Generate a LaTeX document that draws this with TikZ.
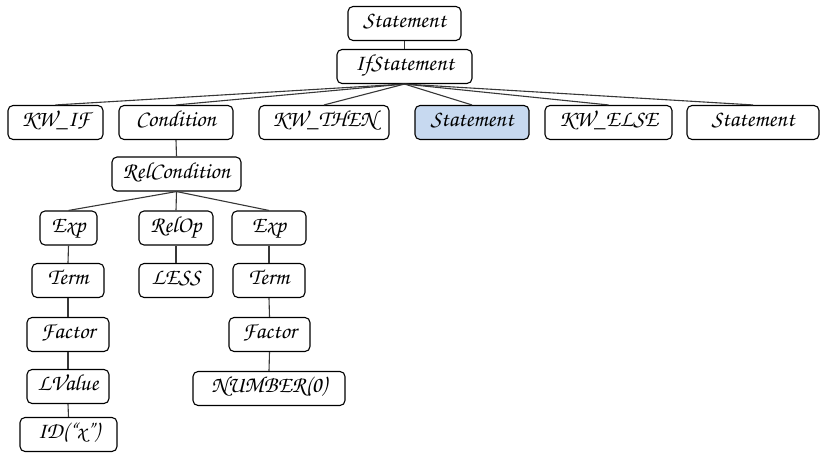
\documentclass[tikz,border=0pt]{standalone}
\usepackage[T1]{fontenc}
\newcommand{\treefont}{\usefont{T1}{pzc}{m}{it}\fontsize{23}{26}\selectfont}
\definecolor{hlblue}{RGB}{199,217,240}
\definecolor{edgegray}{RGB}{55,55,55}
\begin{document}
\begin{tikzpicture}[x=1pt,y=-1pt,
  tnode/.style={draw=black, line width=1.1pt, rounded corners=5pt,
    minimum height=34pt, inner sep=0pt, font=\treefont,
    text height=12pt, text depth=4pt, fill=white},
  hl/.style={fill=hlblue},
  w/.style={minimum width=#1pt},
  edge/.style={draw=edgegray, line width=1.1pt}]
\useasboundingbox (0,0) rectangle (821,452);

% top of the parse tree
\node[tnode, w=113] (stmt)   at (404.5,23.5) {Statement};
\node[tnode, w=135] (ifst)   at (404.5,66.5) {IfStatement};

% children of IfStatement
\node[tnode, w=95]  (kwif)   at (55.5,122.5)  {KW\_IF};
\node[tnode, w=114] (cond)   at (176,122.5)   {Condition};
\node[tnode, w=130] (kwthen) at (324,122.5)   {KW\_THEN};
\node[tnode, w=114, hl] (thenst) at (472,122.5) {Statement};
\node[tnode, w=127] (kwelse) at (608.5,122.5) {KW\_ELSE};
\node[tnode, w=132] (elsest) at (753,122.5)   {Statement};

% condition subtree
\node[tnode, w=129] (relc)   at (176.5,174) {RelCondition};
\node[tnode, w=57]  (expa)   at (68.5,228)  {Exp};
\node[tnode, w=74]  (relop)  at (176,228)   {RelOp};
\node[tnode, w=74]  (expb)   at (269,228)   {Exp};
\node[tnode, w=72]  (terma)  at (68,280.5)  {Term};
\node[tnode, w=74]  (less)   at (176,280.5) {LESS};
\node[tnode, w=72]  (termb)  at (269,280.5) {Term};
\node[tnode, w=82]  (facta)  at (68,334.5)  {Factor};
\node[tnode, w=81]  (factb)  at (269.5,334.5) {Factor};
\node[tnode, w=82]  (lval)   at (68,386.5)  {LValue};
\node[tnode, w=152] (num)    at (269,388.5) {NUMBER(0)};
\node[tnode, w=97]  (ident)  at (68.5,434.5) {ID(``x'')};

% edges: parent bottom to child top
\foreach \p/\c in {stmt/ifst, ifst/kwif, ifst/cond, ifst/kwthen, ifst/thenst,
  ifst/kwelse, ifst/elsest, cond/relc, relc/expa, relc/relop, relc/expb,
  expa/terma, terma/facta, facta/lval, lval/ident, relop/less,
  expb/termb, termb/factb, factb/num}
  \draw[edge] (\p.south) -- (\c.north);
\end{tikzpicture}
\end{document}
